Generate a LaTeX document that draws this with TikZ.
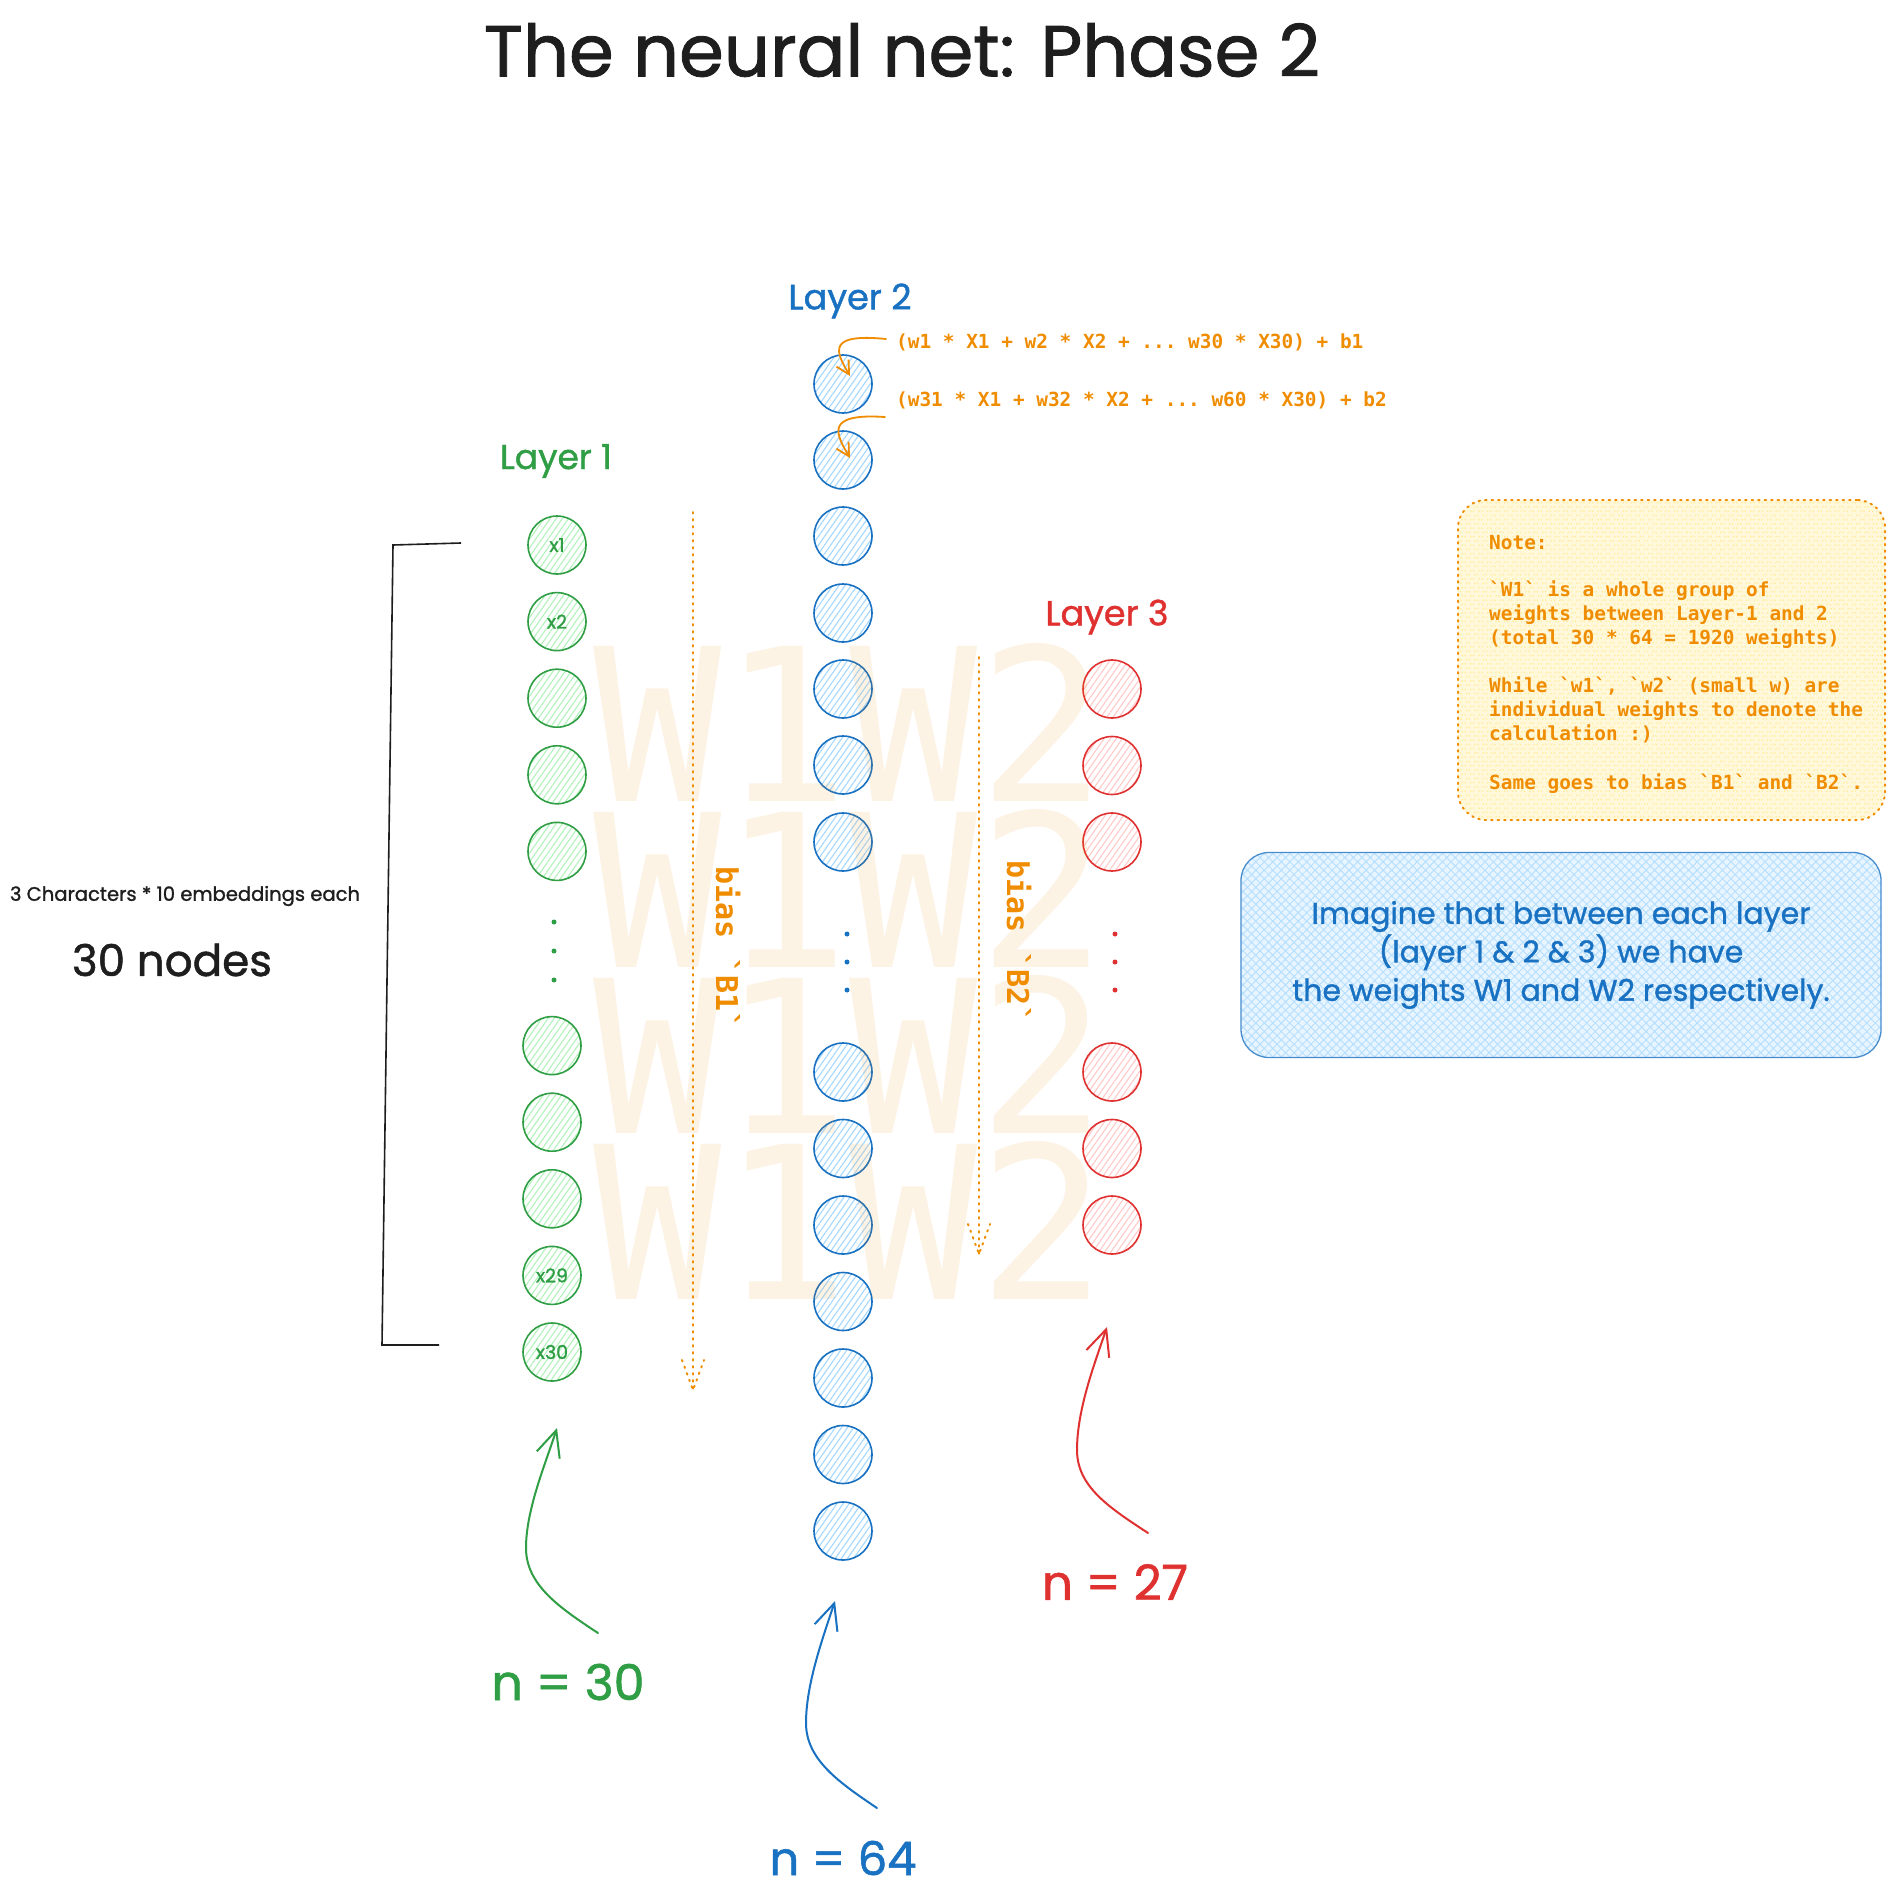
\documentclass[tikz,border=0pt]{standalone}
\usepackage{graphicx}
\usepackage{fontspec}
\setmonofont{DejaVu Sans Mono}
\newfontfamily\handfont{Poppins}[FakeBold=1.2]
\usetikzlibrary{arrows.meta,patterns.meta}
\definecolor{cgreen}{HTML}{2F9E44}
\definecolor{cblue}{HTML}{1971C2}
\definecolor{cred}{HTML}{E03131}
\definecolor{corange}{HTML}{F08C00}
\definecolor{cink}{HTML}{1E1E1E}
\definecolor{lgreen}{HTML}{B2F2BB}
\definecolor{lblue}{HTML}{A5D8FF}
\definecolor{lred}{HTML}{FFC9C9}
\definecolor{lyellow}{HTML}{FFEC99}
\newcommand\FitW[2]{\resizebox{#1pt}{!}{#2}}
\begin{document}
\begin{tikzpicture}[x=1pt,y=-1pt,
  neuron/.style={circle, minimum size=58pt, inner sep=0pt, line width=1.6pt},
  lonec/.style={neuron, draw=cgreen, pattern={Lines[angle=55,distance=5pt,line width=1.1pt]}, pattern color=lgreen, text=cgreen, font=\handfont\fontsize{19}{19}\selectfont},
  ltwoc/.style={neuron, draw=cblue, pattern={Lines[angle=55,distance=5pt,line width=1.1pt]}, pattern color=lblue},
  lthreec/.style={neuron, draw=cred, pattern={Lines[angle=55,distance=5pt,line width=1.1pt]}, pattern color=lred},
  smalldot/.style={circle, fill=#1, inner sep=0pt, minimum size=5pt},
  hand/.style={font=\handfont, inner sep=0pt},
  harrow/.style={line width=2pt, line cap=round, -{Straight Barb[length=26pt,width=24pt]}},
  oarrow/.style={corange, line width=1.8pt, line cap=round, -{Straight Barb[length=13pt,width=14pt]}},
  biasline/.style={corange, line width=2pt, line cap=round, dash pattern=on 1.5pt off 5.5pt},
  biastxt/.style={font=\ttfamily\bfseries\fontsize{30}{30}\selectfont, text=corange, rotate=-90, inner sep=0pt},
  monotxt/.style={font=\ttfamily\bfseries\fontsize{19.4}{24}\selectfont, text=corange, inner sep=0pt, anchor=base west},
  notebox/.style={draw=corange, rounded corners=28pt, dash pattern=on 1.5pt off 5pt, line width=2pt, line cap=round, minimum width=427pt, minimum height=320pt, inner sep=0pt, preaction={fill=lyellow!35}, pattern={Hatch[angle=45,distance=6pt,line width=1pt]}, pattern color=lyellow},
  bluebox/.style={draw=cblue!80, line width=1.3pt, rounded corners=28pt, minimum width=640pt, minimum height=205pt, inner sep=0pt, preaction={fill=lblue!25}, pattern={Hatch[angle=45,distance=6pt,line width=1pt]}, pattern color=lblue!80}
]
\path[use as bounding box, fill=white] (0,0) rectangle (1893,1897);

% title
\node[hand, text=cink] (title) at (902,50) {\FitW{836}{The neural net: Phase 2}};

% layer labels
\node[hand, text=cgreen] (lay1) at (556,461) {\FitW{112}{Layer 1}};
\node[hand, text=cblue] (lay2) at (850,301) {\FitW{123}{Layer 2}};
\node[hand, text=cred] (lay3) at (1107,617) {\FitW{123}{Layer 3}};

% left description
\node[hand, text=cink] (emb) at (185,896) {\FitW{350}{3 Characters * 10 embeddings each}};
\node[hand, text=cink] (thirty) at (172,960) {\FitW{200}{30 nodes}};

% bracket
\coordinate (brA) at (461,543);
\coordinate (brB) at (393,545);
\coordinate (brC) at (382,1345);
\coordinate (brD) at (439,1345);
\draw[cink, line width=1.6pt] (brA) -- (brB) -- (brC) -- (brD);

% bias lines with dotted heads
\coordinate (bias1s) at (693,512);
\coordinate (bias1e) at (693,1390);
\coordinate (bias1l) at (682,1360);
\coordinate (bias1r) at (704,1360);
\draw[biasline] (bias1s) -- (bias1e);
\draw[biasline] (bias1l) -- (bias1e) -- (bias1r);
\coordinate (bias2s) at (979,657);
\coordinate (bias2e) at (979,1254);
\coordinate (bias2l) at (968,1224);
\coordinate (bias2r) at (990,1224);
\draw[biasline] (bias2s) -- (bias2e);
\draw[biasline] (bias2l) -- (bias2e) -- (bias2r);
\node[biastxt] (blab1) at (728,948) {bias `B1`};
\node[biastxt] (blab2) at (1019,942) {bias `B2`};

% layer 1
\node[lonec] (a1) at (557,545) {x1};
\node[lonec] (a2) at (557,621.6) {x2};
\node[lonec] (a3) at (557,698.2) {};
\node[lonec] (a4) at (557,774.8) {};
\node[lonec] (a5) at (557,851.4) {};
\node[lonec] (a26) at (552,1045.6) {};
\node[lonec] (a27) at (552,1122.2) {};
\node[lonec] (a28) at (552,1198.8) {};
\node[lonec] (a29) at (552,1275.4) {x29};
\node[lonec] (a30) at (552,1352) {x30};
\foreach \y in {922,951,980} \node[smalldot=cgreen] (ga\y) at (554,\y) {};

% layer 2
\foreach \i/\y in {1/384,2/460,3/536,4/613,5/689,6/765,7/842,58/1072,59/1148.5,60/1225,61/1301.5,62/1378,63/1454.5,64/1531}
  \node[ltwoc] (b\i) at (843,\y) {};
\foreach \y in {934,962,990} \node[smalldot=cblue] (gb\y) at (847,\y) {};

% layer 3
\foreach \i/\y in {1/689,2/765.5,3/842,25/1072,26/1148.5,27/1225}
  \node[lthreec] (c\i) at (1112,\y) {};
\foreach \y in {934,962,990} \node[smalldot=cred] (gc\y) at (1115,\y) {};

% formulas
\node[monotxt] (form1) at (896,348) {(w1 * X1 + w2 * X2 + ... w30 * X30) + b1};
\node[monotxt] (form2) at (896,406) {(w31 * X1 + w32 * X2 + ... w60 * X30) + b2};
\coordinate (f1s) at (886,339);
\coordinate (f1e) at (850,376);
\draw[oarrow] (f1s) .. controls (826,333) and (836,352) .. (f1e);
\coordinate (f2s) at (885,417);
\coordinate (f2e) at (850,458);
\draw[oarrow] (f2s) .. controls (824,413) and (836,434) .. (f2e);

% note box
\node[notebox] (note) at (1671.5,660) {};
\node[monotxt] (n1) at (1489,549) {Note:};
\node[monotxt] (n2) at (1489,596) {`W1` is a whole group of};
\node[monotxt] (n3) at (1489,620) {weights between Layer-1 and 2};
\node[monotxt] (n4) at (1489,644) {(total 30 * 64 = 1920 weights)};
\node[monotxt] (n5) at (1489,692) {While `w1`, `w2` (small w) are};
\node[monotxt] (n6) at (1489,716) {individual weights to denote the};
\node[monotxt] (n7) at (1489,740) {calculation :)};
\node[monotxt] (n8) at (1489,789) {Same goes to bias `B1` and `B2`.};

% blue box
\node[bluebox, text=cblue, align=center, font=\handfont\fontsize{30}{38.5}\selectfont] (imag) at (1561,955) {Imagine that between each layer\\(layer 1 \& 2 \& 3) we have\\the weights W1 and W2 respectively.};

% n labels and arrows
\node[hand, text=cgreen] (n30) at (568,1682) {\FitW{153}{n = 30}};
\node[hand, text=cblue] (n64) at (843,1858) {\FitW{147}{n = 64}};
\node[hand, text=cred] (n27) at (1115,1582) {\FitW{146}{n = 27}};

\coordinate (g0) at (598,1633);
\coordinate (g1) at (526,1548);
\coordinate (g2) at (557,1428);
\draw[harrow, cgreen] (g0) .. controls (560,1608) and (526,1585) .. (g1) .. controls (526,1510) and (545,1465) .. (g2);
\coordinate (u0) at (877,1808);
\coordinate (u1) at (806,1723);
\coordinate (u2) at (835,1601);
\draw[harrow, cblue] (u0) .. controls (840,1783) and (806,1760) .. (u1) .. controls (806,1685) and (822,1640) .. (u2);
\coordinate (r0) at (1148,1533);
\coordinate (r1) at (1077,1450);
\coordinate (r2) at (1107,1327);
\draw[harrow, cred] (r0) .. controls (1110,1508) and (1077,1487) .. (r1) .. controls (1077,1410) and (1094,1365) .. (r2);

% watermark
\node[font=\ttfamily\fontsize{213}{166}\selectfont, text=corange, text opacity=0.1, inner sep=0pt, align=center] (wm) at (850,971) {W1W2\\W1W2\\W1W2\\W1W2};
\end{tikzpicture}
\end{document}
